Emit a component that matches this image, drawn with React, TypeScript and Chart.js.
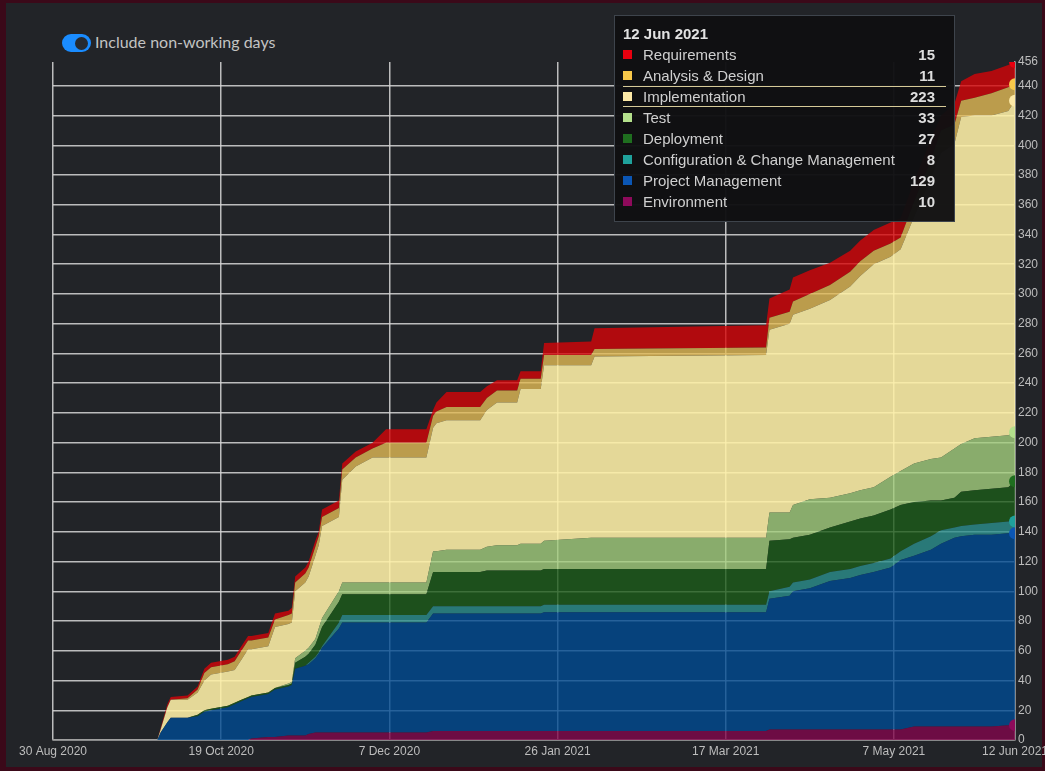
import React, { useEffect, useRef } from 'react';
import { Chart, registerables } from 'chart.js';

Chart.register(...registerables);

// Day offsets from 30 Aug 2020
const days = [0, 31, 32, 34, 35, 40, 43, 45, 47, 52, 54, 56, 58, 59, 64, 66, 70, 71, 72, 75, 76, 78, 79, 80, 85, 86, 90, 95, 99, 111, 113, 114, 117, 127, 129, 132, 138, 139, 145, 146, 160, 161, 212, 213, 219, 220, 225, 231, 237, 240, 244, 249, 252, 256, 261, 264, 268, 270, 274, 279, 284, 286];

const environment = [0,0,0,0,0, 0,0,0,0,0, 0,0,0,1,2, 2,3,3,3,3, 4,5,5,5,5, 5,5,5,5,5, 6,6,6,6,6, 6,6,6,6,6, 6,6,6,7,7, 7,7,7,7,7, 7,7,7,9,9, 9,9,9,9,9, 10,10];
const projectManagement = [0,0,5,12,15, 15,16,19,20,22, 24,26,28,28,29, 32,33,34,45,47, 47,50,53,57,70, 74,74,74,74,74, 79,79,79,79,79, 79,79,79,79,80, 80,80,80,88,90, 93,95,100,102,104, 106,109,114,115,119, 123,127,128,129,129, 129,129];
const configChange = [0,0,0,0,0, 0,0,0,0,0, 0,0,0,0,0, 0,0,0,0,0, 1,1,1,1,4, 5,5,5,5,5, 5,5,5,5,5, 5,5,5,5,5, 5,5,5,5,6, 6,6,6,6,6, 6,6,6,8,9, 9,7,7,7,8, 8,8];
const deployment = [0,0,0,0,0, 0,1,1,1,1, 1,1,1,1,1, 1,1,1,4,6, 6,8,11,13,14, 14,14,14,14,14, 23,23,23,23,24, 24,24,24,24,24, 24,24,24,34,32, 30,30,30,32,32, 32,33,31,28,24, 20,20,23,23,23, 23,27];
const test = [0,0,0,0,0, 0,0,0,0,0, 0,0,0,0,0, 0,1,1,3,4, 4,4,5,6,7, 8,8,8,8,8, 14,14,15,15,16, 17,17,18,18,19, 21,21,21,19,18, 22,24,20,19,19, 19,22,23,26,28, 29,33,32,35,35, 35,33];
const implementation = [0,0,2,10,12, 12,15,20,23,23, 22,27,32,31,31, 41,40,40,45,46, 48,56,56,62,50, 69,78,84,84,84, 83,86,87,87,92, 96,96,104,104,118, 116,122,123,123,127, 128,128,133,139,144, 150,148,149,166,189, 205,205,220,217,216, 218,223];
const analysisDesign = [0,0,0,0,0, 1,2,5,5,5, 6,6,6,6,6, 5,6,6,6,6, 6,6,6,6,6, 7,6,6,10,10, 8,8,9,9,8, 8,8,7,7,7, 7,5,5,8,8, 9,10,10,10,10, 9,9,8,10,12, 15,13,11,12,15, 16,11];
const requirements = [0,0,1,2,2, 2,2,3,3,3, 3,3,3,3,3, 4,3,4,4,4, 4,4,3,5,5, 4,4,4,9,9, 4,6,10,10,8, 7,7,5,5,8, 9,14,15,13,15, 16,16,15,14,14, 14,14,13,14,14, 10,14,13,16,15, 15,15];

// bottom-to-top stacking order
const seriesNames = ['Environment', 'Project Management', 'Configuration & Change Management', 'Deployment', 'Test', 'Implementation', 'Analysis & Design', 'Requirements'];
const seriesValues = [environment, projectManagement, configChange, deployment, test, implementation, analysisDesign, requirements];
const legendColors = ['#8e0a5b', '#0b56b4', '#1fa19b', '#1f6e1f', '#b4e08c', '#fce8a6', '#f8c84a', '#e8000f'];
const fillColors = ['rgba(129,6,75,0.8)', 'rgba(0,74,145,0.8)', 'rgba(44,143,140,0.8)', 'rgba(29,91,25,0.8)', 'rgba(164,206,125,0.8)', 'rgba(255,241,167,0.88)', 'rgba(226,186,85,0.8)', 'rgba(214,4,8,0.8)'];

const xTickDays = [0, 50, 100, 150, 200, 250, 286];
const xTickLabels = ['30 Aug 2020', '19 Oct 2020', '7 Dec 2020', '26 Jan 2021', '17 Mar 2021', '7 May 2021', '12 Jun 2021'];
const yTicks = [0, 20, 40, 60, 80, 100, 120, 140, 160, 180, 200, 220, 240, 260, 280, 300, 320, 340, 360, 380, 400, 420, 440, 456];
const xMax = 286;
const yMax = 456;
const tooltipTitle = '12 Jun 2021';
const highlightedSeries = 'Implementation';

const gridColor = 'rgba(215,215,215,0.85)';
const tickFont = { family: '"Liberation Sans", Arial, sans-serif', size: 12 };

function ChartCanvas() {
  const ref = useRef<HTMLCanvasElement | null>(null);
  useEffect(() => {
    if (!ref.current) return;
    const datasets = seriesValues.map((arr, i) => ({
      label: seriesNames[i],
      data: arr.map((v, j) => ({ x: days[j], y: v })),
      backgroundColor: fillColors[i],
      borderColor: 'rgba(0,0,0,0)',
      borderWidth: 0,
      fill: i === 0 ? 'origin' : '-1',
      tension: 0,
      pointRadius: (ctx: any) => (ctx.dataIndex === arr.length - 1 ? 6 : 0),
      pointBackgroundColor: legendColors[i],
      pointBorderWidth: 0,
    }));
    const chart = new Chart(ref.current, {
      type: 'line',
      data: { datasets } as any,
      options: {
        animation: false,
        responsive: true,
        maintainAspectRatio: false,
        events: [],
        layout: { padding: { left: 53, top: 62, right: 0, bottom: 0 } },
        plugins: { legend: { display: false }, tooltip: { enabled: false } },
        scales: {
          x: {
            type: 'linear',
            min: 0,
            max: xMax,
            afterBuildTicks: (s: any) => {
              s.ticks = xTickDays.map((v) => ({ value: v }));
            },
            afterFit: (s: any) => {
              s.paddingLeft = 0;
              s.paddingRight = 0;
              s.height = 31;
            },
            ticks: {
              autoSkip: false,
              maxRotation: 0,
              minRotation: 0,
              padding: 4,
              color: '#bdbdbd',
              font: tickFont,
              callback: (v: any) => xTickLabels[xTickDays.indexOf(Number(v))] ?? '',
            },
            grid: { color: gridColor, lineWidth: 1.5, drawTicks: false },
            border: { display: true, color: '#a0a0a0', width: 1.5 },
          },
          y: {
            position: 'right',
            stacked: true,
            min: 0,
            max: yMax,
            afterBuildTicks: (s: any) => {
              s.ticks = yTicks.map((v) => ({ value: v }));
            },
            afterFit: (s: any) => {
              s.width = 30;
            },
            ticks: {
              padding: 3,
              color: '#bdbdbd',
              font: tickFont,
              callback: (v: any) => String(v),
            },
            grid: {
              color: (ctx: any) => (ctx.tick && ctx.tick.value === yMax ? 'rgba(0,0,0,0)' : gridColor),
              lineWidth: 1.5,
              drawTicks: false,
            },
            border: { display: true, color: '#a0a0a0', width: 1.5 },
          },
        },
      } as any,
    });
    return () => chart.destroy();
  }, []);
  return (
    <div style={{ position: 'absolute', left: 0, top: 0, width: 1045, height: 771 }}>
      <canvas ref={ref} />
    </div>
  );
}

function Tooltip() {
  const rows = seriesNames.map((name, i) => ({
    name,
    color: legendColors[i],
    value: seriesValues[i][seriesValues[i].length - 1],
  })).reverse();
  return (
    <div
      style={{
        position: 'absolute',
        left: 614,
        top: 15,
        width: 341,
        height: 207,
        boxSizing: 'border-box',
        background: 'rgba(15,16,18,0.97)',
        border: '1px solid #3e444c',
        padding: '7px 8px 0 8px',
        fontFamily: '"Liberation Sans", Arial, sans-serif',
        fontSize: 15,
        color: '#cfcfcf',
      }}
    >
      <div style={{ height: 21, lineHeight: '21px', fontWeight: 700, color: '#e2e2e2' }}>{tooltipTitle}</div>
      {rows.map((r) => {
        const hl = r.name === highlightedSeries;
        return (
          <div
            key={r.name}
            style={{
              position: 'relative',
              height: 21,
              lineHeight: '21px',
              boxSizing: 'border-box',
              borderTop: hl ? '1px solid #d6ca98' : 'none',
              borderBottom: hl ? '1px solid #d6ca98' : 'none',
            }}
          >
            <span
              style={{
                position: 'absolute',
                left: 0,
                top: hl ? 5 : 6,
                width: 9,
                height: 9,
                background: r.color,
              }}
            />
            <span style={{ position: 'absolute', left: 20, top: hl ? -1 : 0 }}>{r.name}</span>
            <span style={{ position: 'absolute', right: 11, top: hl ? -1 : 0, fontWeight: 700, color: '#dedede' }}>{r.value}</span>
          </div>
        );
      })}
    </div>
  );
}

export default function App() {
  return (
    <div style={{ position: 'fixed', left: 0, top: 0, width: 1045, height: 771, background: '#3b0919', overflow: 'hidden' }}>
      <div style={{ position: 'absolute', left: 6, top: 3, right: 3, bottom: 4, background: '#222428' }} />
      <div
        style={{
          position: 'absolute',
          left: 62,
          top: 34,
          width: 29,
          height: 18,
          borderRadius: 9,
          background: '#1a8cff',
        }}
      >
        <div style={{ position: 'absolute', right: 3, top: 2.5, width: 13, height: 13, borderRadius: '50%', background: '#262a30' }} />
      </div>
      <div
        style={{
          position: 'absolute',
          left: 95,
          top: 32,
          fontFamily: 'Lato, "Noto Sans", sans-serif',
          fontSize: 16,
          lineHeight: '20px',
          color: '#c3c3c3',
          whiteSpace: 'nowrap',
        }}
      >
        Include non-working days
      </div>
      <ChartCanvas />
      <Tooltip />
    </div>
  );
}
